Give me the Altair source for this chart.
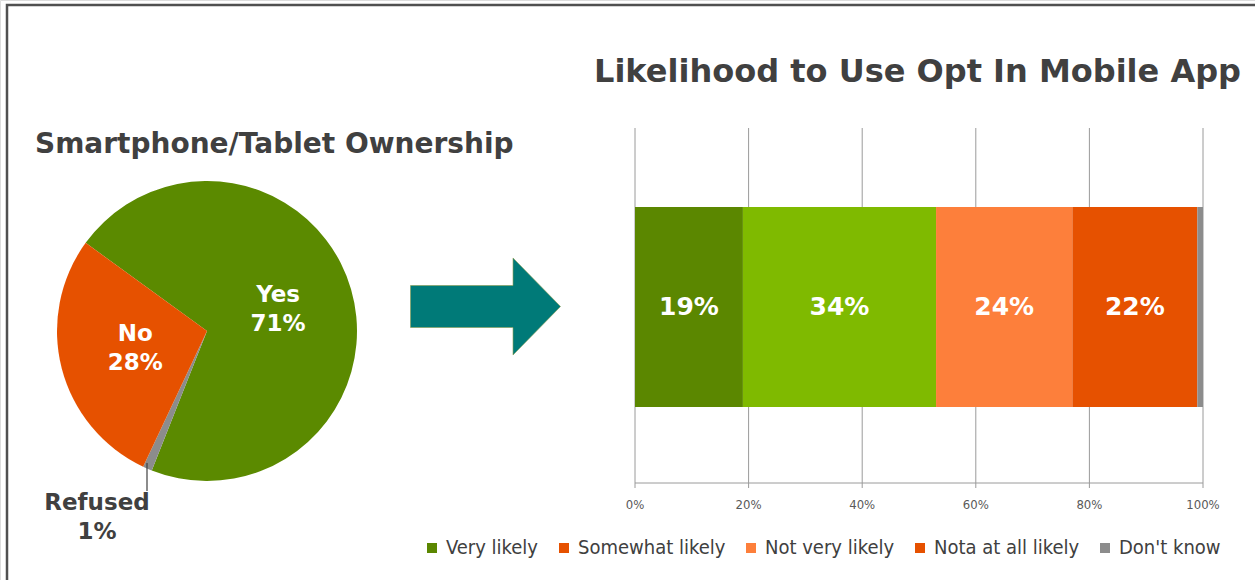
import altair as alt
import pandas as pd
import math

# ---- data ----
pie_cats = ["Yes", "Refused", "No"]
pie_vals = [71, 1, 28]
pie_labels = ["Yes\n71%", "", "No\n28%"]
pie_colors = ["#5b8a00", "#8c8c8c", "#e65100"]
refused_label = "Refused\n1%"

bar_cats = ["Very likely", "Somewhat likely", "Not very likely", "Nota at all likely", "Don't know"]
bar_vals = [19, 34, 24, 22, 1]
bar_colors = ["#5b8700", "#7fba00", "#fd7f3b", "#e65100", "#8c8c8c"]
legend_colors = ["#5b8700", "#e65100", "#fd7f3b", "#e65100", "#8c8c8c"]

tick_vals = [0, 20, 40, 60, 80, 100]
tick_labels = ["0%", "20%", "40%", "60%", "80%", "100%"]

title_left = "Smartphone/Tablet Ownership"
title_right = "Likelihood to Use Opt In Mobile App"

W, H = 1255, 580
X0, X1 = 635, 1203
xs = alt.Scale(domain=[0, 100], range=[X0, X1], nice=False, zero=False)

pie_df = pd.DataFrame({"cat": pie_cats, "val": pie_vals, "lab": pie_labels, "ord": range(len(pie_cats))})
bar_df = pd.DataFrame({"cat": bar_cats, "val": bar_vals, "ord": range(len(bar_cats))})
tick_df = pd.DataFrame({"t": tick_vals, "lab": tick_labels})
one = pd.DataFrame({"a": [0]})

start = -54 * math.pi / 180
theta_scale = alt.Scale(range=[start, start + 2 * math.pi])

frame = alt.Chart(one).mark_rect(fill=None, stroke="#505050", strokeWidth=2.5).encode(
    x=alt.value(7), x2=alt.value(1300), y=alt.value(5), y2=alt.value(620)
)

pie = alt.Chart(pie_df).mark_arc(radius=150, stroke=None).encode(
    theta=alt.Theta("val:Q", stack=True, scale=theta_scale),
    order=alt.Order("ord:Q"),
    color=alt.Color("cat:N", scale=alt.Scale(domain=pie_cats, range=pie_colors), legend=None),
    x=alt.value(207), y=alt.value(331),
)

pie_text = alt.Chart(pie_df).mark_text(
    radius=74, color="white", fontSize=23, fontWeight="bold", font="DejaVu Sans",
    lineBreak="\n", baseline="middle", align="center", lineHeight=29, dy=-15
).encode(
    theta=alt.Theta("val:Q", stack=True, scale=theta_scale),
    order=alt.Order("ord:Q"),
    text="lab:N",
    x=alt.value(207), y=alt.value(331),
)

leader = alt.Chart(one).mark_rule(color="#404040", strokeWidth=1.2).encode(
    x=alt.value(147), y=alt.value(463), y2=alt.value(491)
)
refused = alt.Chart(one).mark_text(
    text=refused_label, color="#404040", fontSize=23, fontWeight="bold", font="DejaVu Sans",
    lineBreak="\n", align="center", baseline="top", lineHeight=29
).encode(x=alt.value(97), y=alt.value(492))

t_left = alt.Chart(one).mark_text(
    text=title_left, color="#404040", fontSize=28, fontWeight="bold", font="DejaVu Sans",
    align="left", baseline="alphabetic"
).encode(x=alt.value(35), y=alt.value(153))

t_right = alt.Chart(one).mark_text(
    text=title_right, color="#404040", fontSize=32, fontWeight="bold", font="DejaVu Sans",
    align="left", baseline="alphabetic"
).encode(x=alt.value(594), y=alt.value(82))

arrow_shape = "M-1,-0.28L0.367,-0.28L0.367,-0.647L1,0L0.367,0.647L0.367,0.28L-1,0.28Z"
arrow = alt.Chart(one).mark_point(
    shape=arrow_shape, filled=True, fill="#007a78", stroke="#8a9a50", strokeWidth=0.6,
    size=150 * 150, opacity=1
).encode(x=alt.value(485.5), y=alt.value(306.5))

grid = alt.Chart(tick_df).mark_rule(color="#9a9a9a", strokeWidth=1).encode(
    x=alt.X("t:Q", scale=xs, axis=None), y=alt.value(128), y2=alt.value(488)
)
axis_line = alt.Chart(one).mark_rule(color="#9a9a9a", strokeWidth=1).encode(
    x=alt.value(X0), x2=alt.value(X1), y=alt.value(483)
)
tick_text = alt.Chart(tick_df).mark_text(
    color="#595959", fontSize=13, font="Liberation Sans Narrow, DejaVu Sans Condensed, sans-serif",
    baseline="middle"
).encode(x=alt.X("t:Q", scale=xs, axis=None), y=alt.value(505), text="lab:N")

bars_base = alt.Chart(bar_df).transform_window(
    cum="sum(val)", sort=[alt.SortField("ord")], frame=[None, 0]
).transform_calculate(
    x0="datum.cum - datum.val", mid="datum.cum - datum.val/2",
    lab="datum.val >= 5 ? datum.val + '%' : ''"
)
bars = bars_base.mark_rect().encode(
    x=alt.X("x0:Q", scale=xs, axis=None), x2="cum:Q",
    y=alt.value(207), y2=alt.value(407),
    color=alt.Color("cat:N", scale=alt.Scale(domain=bar_cats, range=bar_colors), legend=None),
)
bar_text = bars_base.mark_text(
    color="white", fontSize=25, fontWeight="bold", font="DejaVu Sans", baseline="middle"
).encode(x=alt.X("mid:Q", scale=xs, axis=None), y=alt.value(307), text="lab:N")

legend_layer = alt.Chart(bar_df).mark_square(opacity=0).encode(
    x=alt.value(0), y=alt.value(0),
    color=alt.Color("cat:N", scale=alt.Scale(domain=bar_cats, range=legend_colors),
                    legend=alt.Legend(orient="none", legendX=422, legendY=538, direction="horizontal",
                                      title=None, symbolType="square", symbolOpacity=1, symbolSize=100,
                                      symbolStrokeWidth=0, labelFontSize=20, labelColor="#404040",
                                      labelFont="Liberation Sans Narrow, DejaVu Sans Condensed, sans-serif",
                                      columnPadding=15, labelOffset=4, labelLimit=300)),
)

chart = alt.layer(
    frame, grid, axis_line, tick_text, bars, bar_text, pie, pie_text, leader, refused,
    t_left, t_right, arrow, legend_layer
).resolve_scale(color="independent", theta="independent").properties(
    width=W, height=H, padding=0, autosize=alt.AutoSizeParams(type="none")
).configure_view(stroke=None).configure(background="white")

chart.save("out.html", embed_options={"renderer": "svg", "actions": False})
